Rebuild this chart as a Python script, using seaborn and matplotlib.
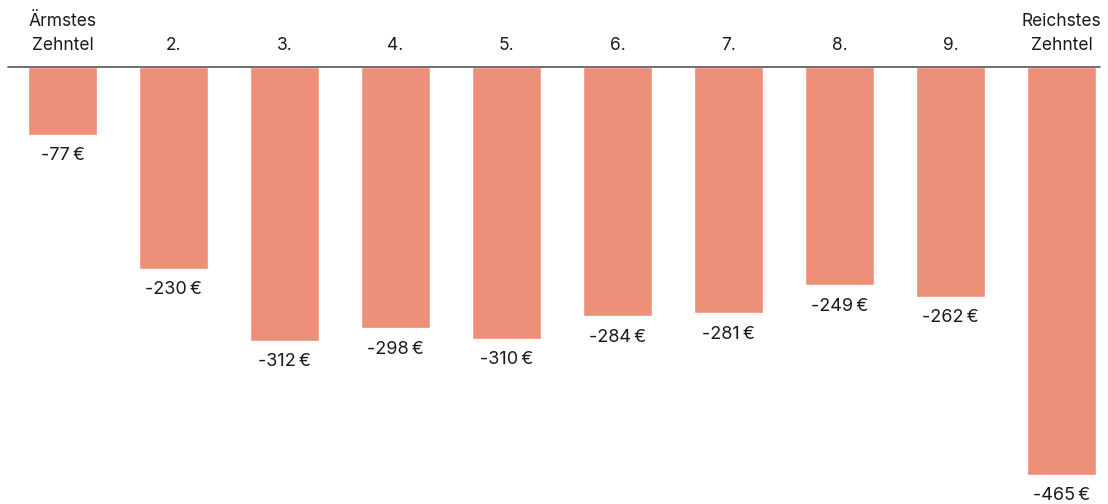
import numpy as np
import pandas as pd
import seaborn as sns
import matplotlib.pyplot as plt

# data
categories = ["Ärmstes\nZehntel", "2.", "3.", "4.", "5.", "6.", "7.", "8.", "9.", "Reichstes\nZehntel"]
values = [-77, -230, -312, -298, -310, -284, -281, -249, -262, -465]

df = pd.DataFrame({"cat": categories, "val": values})

sns.set_theme(style="white")
plt.rcParams['font.family'] = ['Inter', 'DejaVu Sans']

fig = plt.figure(figsize=(11.08, 5.04), dpi=100)
ax = fig.add_axes([8 / 1108, 0, (1100 - 8) / 1108, 1 - 67 / 504])

sns.barplot(df, x="cat", y="val", color="#ED9079", saturation=1, width=0.62, ax=ax)

# x limits so that bars land at the same spots as the reference
ax.set_xlim((8 - 62.5) / 111, (1100 - 62.5) / 111)
ax.set_ylim(-(504 - 67) / 0.877, 0)

# zero line on top
ax.axhline(0, color="#555555", linewidth=1.2, clip_on=False)

# labels under each bar
for i, v in enumerate(values):
    ax.annotate(f"{v}\u2009€", (i, v), xytext=(0, -9), textcoords="offset points",
                ha="center", va="top", fontsize=13, color="#1a1a1a")

ax.xaxis.tick_top()
ax.tick_params(axis="x", length=0, pad=9, labelsize=12.5, labelcolor="#1a1a1a")
for t in ax.get_xticklabels():
    t.set_linespacing(1.6)
ax.set_xlabel("")
ax.set_ylabel("")
ax.set_yticks([])
sns.despine(ax=ax, left=True, bottom=True, top=True, right=True)

plt.savefig("out.png", dpi=100)
plt.close(fig)
